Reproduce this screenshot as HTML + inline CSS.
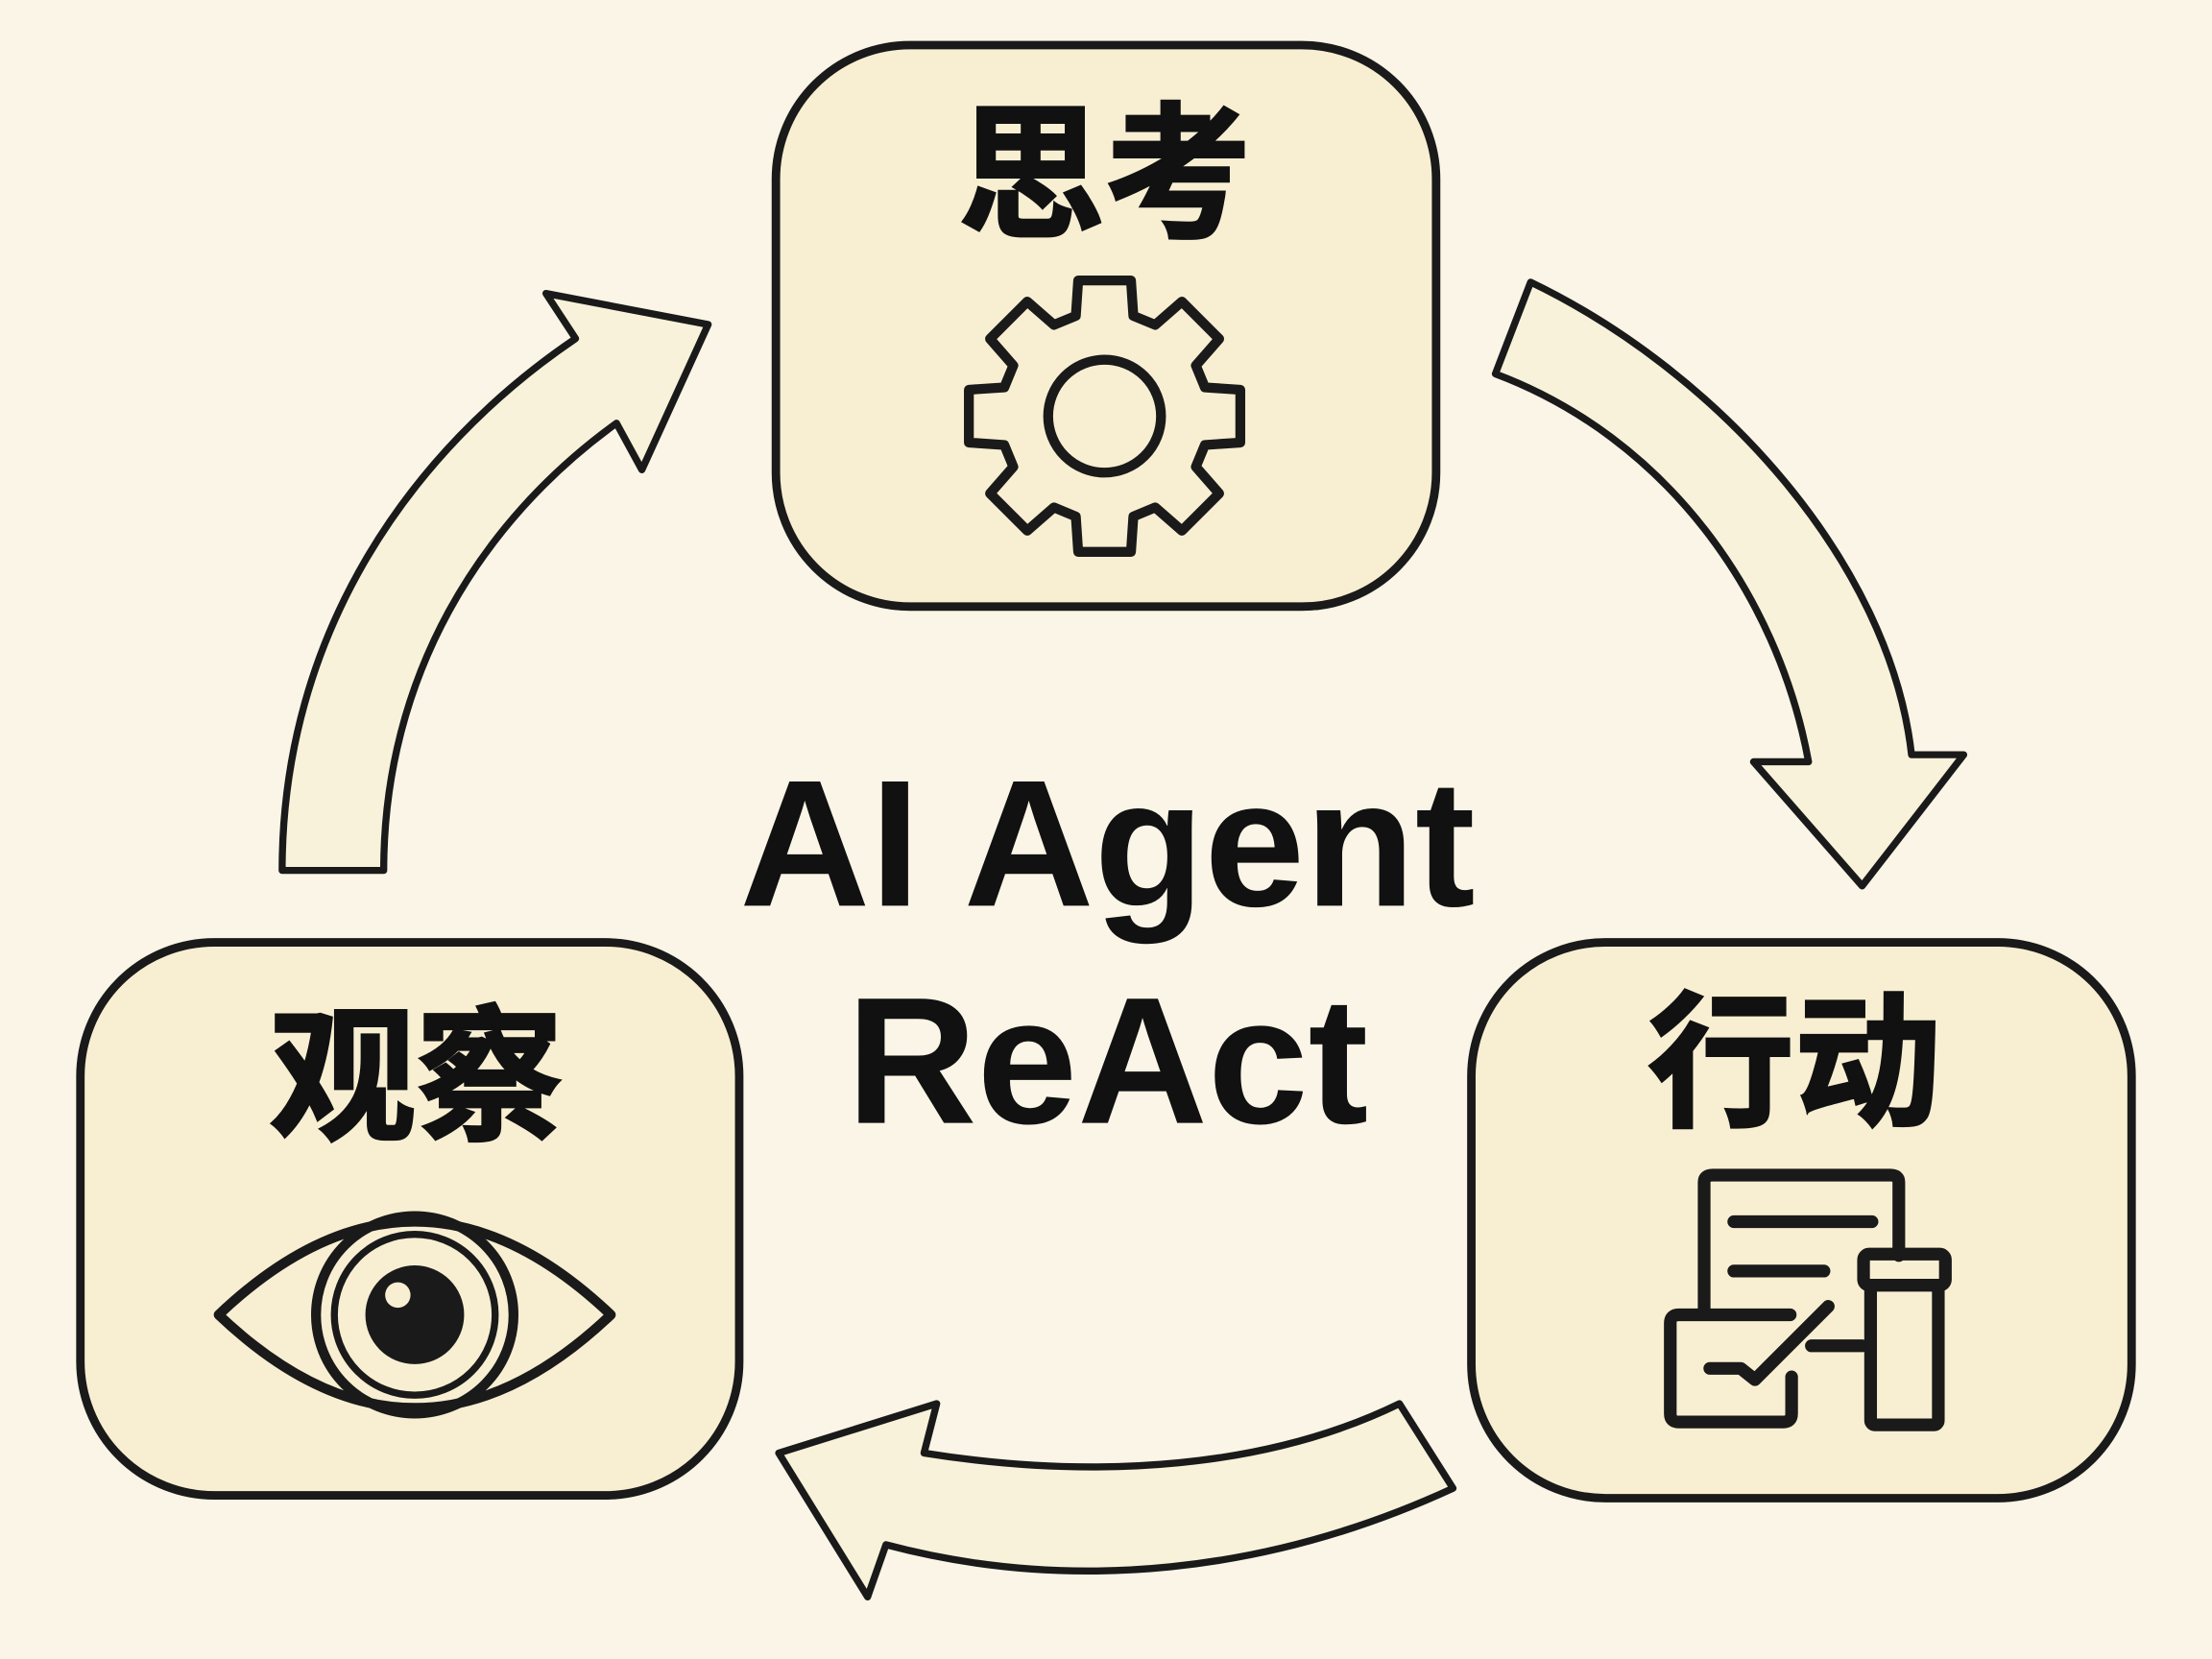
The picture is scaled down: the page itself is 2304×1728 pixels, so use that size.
<!DOCTYPE html>
<html><head><meta charset="utf-8"><style>
html,body{margin:0;padding:0;background:#faf5e6;}
svg{display:block;}
text{font-family:"Liberation Sans","Noto Sans CJK SC",sans-serif;font-weight:bold;fill:#111;}
</style></head><body>
<svg width="2304" height="1728" viewBox="0 0 1568 1176" xmlns="http://www.w3.org/2000/svg">
<rect width="1568" height="1176" fill="#faf5e6"/>
<g fill="#f8efd2" stroke="#1a1a1a" stroke-width="6" stroke-linejoin="round">
<rect x="550" y="32" width="468" height="398" rx="95"/>
<rect x="57" y="668" width="467" height="392" rx="95"/>
<rect x="1043" y="668" width="468" height="394" rx="95"/>
</g>
<g fill="#f8f2da" stroke="#1a1a1a" stroke-width="5" stroke-linejoin="round">
<path d="M200,617 C200,450 290,320 408,240 L387,208 L502,230 L455,333 L437,300 C340,370 272,480 272,617 Z"/>
<path d="M1085,200 C1220,265 1340,400 1355,535 L1392,535 L1320,628 L1243,540 L1282,540 C1260,420 1180,310 1060,265 Z"/>
<path d="M992,995 C900,1040 780,1050 655,1030 L664,995 L552,1030 L615,1132 L628,1095 C760,1130 900,1115 1030,1055 Z"/>
</g>
<g stroke="#111" stroke-width="2">
<text x="783" y="160" font-size="104" text-anchor="middle">思考</text>
<text x="295" y="800" font-size="104" text-anchor="middle">观察</text>
<text x="1272" y="790" font-size="104" text-anchor="middle">行动</text>
</g>
<text x="785" y="642" font-size="128" text-anchor="middle">AI Agent</text>
<text x="785" y="796" font-size="128" text-anchor="middle">ReAct</text>
<g transform="translate(783,295)" fill="none" stroke="#1a1a1a" stroke-width="7" stroke-linejoin="round">
<path d="M-20.4,-71.1 L-18.7,-96.2 L18.7,-96.2 L20.4,-71.1 L35.9,-64.7 L54.8,-81.2 L81.2,-54.8 L64.7,-35.9 L71.1,-20.4 L96.2,-18.7 L96.2,18.7 L71.1,20.4 L64.7,35.9 L81.2,54.8 L54.8,81.2 L35.9,64.7 L20.4,71.1 L18.7,96.2 L-18.7,96.2 L-20.4,71.1 L-35.9,64.7 L-54.8,81.2 L-81.2,54.8 L-64.7,35.9 L-71.1,20.4 L-96.2,18.7 L-96.2,-18.7 L-71.1,-20.4 L-64.7,-35.9 L-81.2,-54.8 L-54.8,-81.2 L-35.9,-64.7 Z"/>
<circle r="40"/>
</g>
<g fill="none" stroke="#1a1a1a" stroke-width="7">
<path d="M155,932 Q294,800 433,932 Q294,1064 155,932 Z" stroke-linejoin="round"/>
<circle cx="294" cy="932" r="70"/>
<circle cx="294" cy="932" r="57" stroke-width="5"/>
<circle cx="294" cy="932" r="35" fill="#1a1a1a" stroke="none"/>
<circle cx="282" cy="918" r="9" fill="#f8efd2" stroke="none"/>
</g>
<g fill="none" stroke="#1a1a1a" stroke-width="9" stroke-linecap="round" stroke-linejoin="round">
<path d="M1208,928 L1208,838 Q1208,833 1214,833 L1340,833 Q1346,833 1346,838 L1346,890"/>
<path d="M1229,866 L1327,866 M1229,901 L1293,901"/>
<path d="M1269,932 L1190,932 Q1184,932 1184,938 L1184,1002 Q1184,1008 1190,1008 L1264,1008 Q1270,1008 1270,1002 L1270,976"/>
<path d="M1212,970 L1234,970 L1244,978 L1296,926"/>
<path d="M1284,954 L1320,954"/>
<rect x="1321" y="889" width="58" height="22" rx="4"/>
<rect x="1326" y="911" width="48" height="99" rx="3"/>
</g>
</svg>
</body></html>
